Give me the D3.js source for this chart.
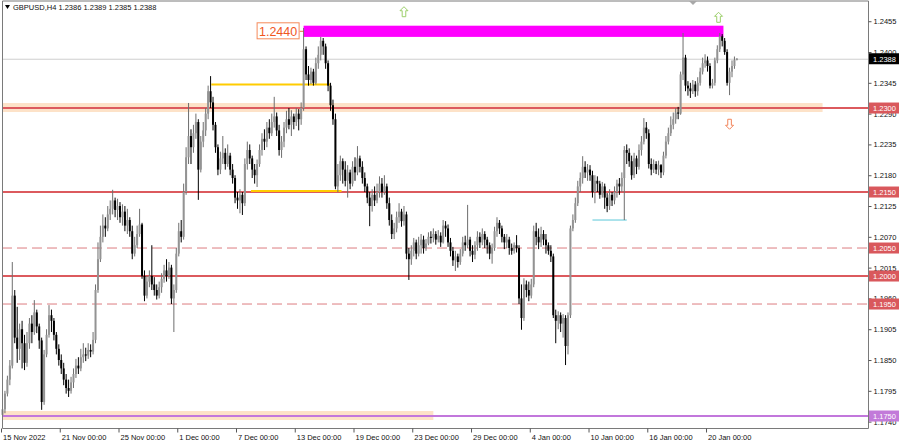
<!DOCTYPE html>
<html>
<head>
<meta charset="utf-8">
<script src="https://cdn.jsdelivr.net/npm/d3@7"></script>
<style>
body { margin: 0; background: #fff; }
svg { display: block; }
text { font-family: "Liberation Sans", Arial, sans-serif; }
</style>
</head>
<body>
<div id="chart"></div>
<script>
// GBPUSD H4 candles (bar 0 = 15 Nov 2022 00:00)
const opens = [
1.1752,1.1762,1.1790,1.1815,1.1840,1.1965,1.1890,1.1870,1.1905,1.1880,1.1845,1.1880,1.1915,1.1900,1.1935,1.1910,1.1885,1.1775,1.1860,1.1895,1.1930,1.1920,1.1895,1.1870,
1.1850,1.1835,1.1815,1.1800,1.1795,1.1810,1.1825,1.1840,1.1835,1.1855,1.1860,1.1858,1.1868,1.1865,1.1886,1.1975,1.2030,1.2070,1.2090,1.2085,1.2110,1.2120,1.2135,1.2118,
1.2125,1.2105,1.2115,1.2090,1.2100,1.2080,1.2040,1.2055,1.2075,1.2092,1.2000,1.1965,1.1990,1.2000,1.1985,1.1975,1.1965,1.1980,1.1995,1.2010,1.2000,1.2015,1.1960,1.1975,
1.2040,1.2080,1.2070,1.2150,1.2212,1.2250,1.2230,1.2255,1.2275,1.2190,1.2240,1.2260,1.2290,1.2330,1.2310,1.2270,1.2230,1.2190,1.2210,1.2220,1.2200,1.2215,1.2190,1.2175,
1.2140,1.2135,1.2145,1.2130,1.2200,1.2225,1.2210,1.2190,1.2180,1.2200,1.2225,1.2245,1.2240,1.2265,1.2255,1.2275,1.2285,1.2260,1.2225,1.2240,1.2265,1.2280,1.2270,1.2285,
1.2275,1.2290,1.2280,1.2300,1.2405,1.2360,1.2350,1.2365,1.2345,1.2380,1.2395,1.2420,1.2410,1.2380,1.2340,1.2305,1.2280,1.2160,1.2180,1.2205,1.2190,1.2170,1.2185,1.2165,
1.2195,1.2185,1.2210,1.2195,1.2175,1.2160,1.2140,1.2125,1.2145,1.2135,1.2150,1.2165,1.2150,1.2160,1.2130,1.2100,1.2075,1.2085,1.2105,1.2115,1.2098,1.2110,1.2040,1.2030,
1.2045,1.2060,1.2040,1.2055,1.2065,1.2050,1.2058,1.2070,1.2068,1.2075,1.2065,1.2072,1.2060,1.2090,1.2085,1.2060,1.2045,1.2028,1.2035,1.2025,1.2040,1.2060,1.2055,1.2065,
1.2045,1.2038,1.2055,1.2070,1.2060,1.2075,1.2065,1.2055,1.2040,1.2050,1.2080,1.2095,1.2085,1.2070,1.2060,1.2065,1.2050,1.2045,1.2055,1.2050,1.1960,1.1925,1.1985,1.1975,
1.1965,1.1985,1.2080,1.2070,1.2060,1.2075,1.2065,1.2055,1.2045,1.2035,1.1930,1.1920,1.1930,1.1915,1.1925,1.1875,1.1930,1.2085,1.2100,1.2130,1.2160,1.2175,1.2195,1.2185,
1.2190,1.2180,1.2150,1.2170,1.2165,1.2145,1.2160,1.2140,1.2125,1.2145,1.2135,1.2150,1.2165,1.2160,1.2175,1.2225,1.2220,1.2205,1.2180,1.2210,1.2195,1.2225,1.2240,1.2265,
1.2255,1.2200,1.2190,1.2200,1.2190,1.2198,1.2185,1.2215,1.2240,1.2255,1.2270,1.2280,1.2292,1.2290,1.2360,1.2390,1.2340,1.2335,1.2330,1.2342,1.2330,1.2345,1.2365,1.2380,
1.2385,1.2375,1.2340,1.2345,1.2385,1.2405,1.2428,1.2420,1.2400,1.2345,1.2365,1.2375,1.2386]

const highs = [
1.1768,1.1795,1.1822,1.1850,1.2025,1.1975,1.1945,1.1915,1.1920,1.1895,1.1900,1.1925,1.1930,1.1957,1.1940,1.1915,1.1890,1.1868,1.1905,1.1948,1.1940,1.1925,1.1900,1.1878,
1.1860,1.1845,1.1825,1.1815,1.1820,1.1835,1.1852,1.1855,1.1870,1.1880,1.1872,1.1880,1.1878,1.1900,1.1985,1.2060,1.2090,1.2110,1.2105,1.2125,1.2135,1.2154,1.2140,1.2138,
1.2132,1.2128,1.2125,1.2120,1.2105,1.2090,1.2070,1.2090,1.2120,1.2095,1.2010,1.2000,1.2010,1.2055,1.1998,1.1985,1.1990,1.2005,1.2020,1.2030,1.2025,1.2020,1.1985,1.2050,
1.2095,1.2100,1.2165,1.2230,1.2309,1.2262,1.2270,1.2290,1.2280,1.2250,1.2275,1.2300,1.2340,1.2357,1.2320,1.2275,1.2235,1.2222,1.2250,1.2228,1.2235,1.2220,1.2200,1.2180,
1.2150,1.2155,1.2150,1.2210,1.2240,1.2235,1.2215,1.2200,1.2208,1.2235,1.2255,1.2262,1.2275,1.2280,1.2290,1.2320,1.2292,1.2270,1.2250,1.2275,1.2295,1.2300,1.2296,1.2290,
1.2300,1.2298,1.2310,1.2443,1.2410,1.2375,1.2372,1.2370,1.2390,1.2410,1.2427,1.2425,1.2415,1.2385,1.2345,1.2315,1.2290,1.2200,1.2215,1.2210,1.2205,1.2198,1.2190,1.2205,
1.2212,1.2232,1.2215,1.2205,1.2185,1.2165,1.2150,1.2155,1.2160,1.2165,1.2178,1.2175,1.2180,1.2165,1.2140,1.2110,1.2095,1.2115,1.2130,1.2120,1.2125,1.2115,1.2050,1.2055,
1.2068,1.2065,1.2070,1.2075,1.2072,1.2066,1.2078,1.2080,1.2085,1.2080,1.2082,1.2078,1.2100,1.2098,1.2092,1.2068,1.2052,1.2045,1.2040,1.2048,1.2070,1.2072,1.2127,1.2070,
1.2055,1.2062,1.2080,1.2078,1.2085,1.2080,1.2070,1.2060,1.2058,1.2088,1.2105,1.2100,1.2090,1.2075,1.2075,1.2070,1.2058,1.2060,1.2073,1.2055,1.1985,1.1996,1.1992,1.1990,
1.1995,1.2090,1.2095,1.2085,1.2088,1.2082,1.2075,1.2060,1.2055,1.2040,1.1940,1.1937,1.1935,1.1932,1.1930,1.1935,1.2090,1.2110,1.2140,1.2170,1.2185,1.2214,1.2205,1.2200,
1.2198,1.2188,1.2180,1.2178,1.2170,1.2168,1.2165,1.2148,1.2155,1.2150,1.2160,1.2172,1.2175,1.2185,1.2232,1.2235,1.2228,1.2215,1.2220,1.2215,1.2235,1.2250,1.2282,1.2275,
1.2262,1.2210,1.2208,1.2205,1.2206,1.2200,1.2222,1.2250,1.2265,1.2285,1.2292,1.2300,1.2302,1.2365,1.2434,1.2395,1.2348,1.2345,1.2350,1.2348,1.2355,1.2372,1.2390,1.2396,
1.2392,1.2380,1.2352,1.2390,1.2412,1.2434,1.2432,1.2425,1.2405,1.2372,1.2385,1.2392,1.2389]

const lows = [
1.1745,1.1755,1.1785,1.1805,1.1835,1.1880,1.1845,1.1850,1.1835,1.1832,1.1838,1.1870,1.1880,1.1895,1.1898,1.1870,1.1761,1.1770,1.1855,1.1890,1.1900,1.1885,1.1860,1.1840,
1.1825,1.1805,1.1790,1.1784,1.1790,1.1800,1.1818,1.1825,1.1830,1.1845,1.1848,1.1852,1.1855,1.1860,1.1880,1.1970,1.2025,1.2060,1.2070,1.2080,1.2100,1.2110,1.2105,1.2100,
1.2095,1.2090,1.2080,1.2075,1.2070,1.2030,1.2035,1.2050,1.2070,1.1995,1.1955,1.1960,1.1980,1.1975,1.1965,1.1958,1.1960,1.1970,1.1988,1.1990,1.1995,1.1950,1.1900,1.1970,
1.2035,1.2060,1.2065,1.2145,1.2200,1.2200,1.2220,1.2245,1.2136,1.2185,1.2230,1.2250,1.2280,1.2300,1.2260,1.2220,1.2180,1.2182,1.2200,1.2190,1.2195,1.2180,1.2165,1.2130,
1.2120,1.2112,1.2109,1.2125,1.2190,1.2200,1.2175,1.2165,1.2159,1.2195,1.2215,1.2225,1.2230,1.2245,1.2250,1.2265,1.2250,1.2215,1.2211,1.2230,1.2255,1.2262,1.2250,1.2262,
1.2268,1.2260,1.2270,1.2295,1.2350,1.2340,1.2343,1.2340,1.2342,1.2370,1.2385,1.2395,1.2370,1.2330,1.2295,1.2270,1.2155,1.2150,1.2170,1.2165,1.2160,1.2140,1.2155,1.2160,
1.2170,1.2180,1.2185,1.2165,1.2150,1.2130,1.2089,1.2115,1.2125,1.2130,1.2140,1.2140,1.2145,1.2120,1.2090,1.2066,1.2066,1.2078,1.2095,1.2088,1.2090,1.2030,1.1993,1.2020,
1.2035,1.2030,1.2035,1.2040,1.2040,1.2045,1.2055,1.2058,1.2060,1.2056,1.2060,1.2052,1.2058,1.2070,1.2052,1.2035,1.2018,1.2009,1.2015,1.2020,1.2035,1.2045,1.2050,1.2035,
1.2025,1.2030,1.2045,1.2050,1.2055,1.2050,1.2040,1.2030,1.2022,1.2045,1.2070,1.2075,1.2060,1.2048,1.2050,1.2038,1.2038,1.2040,1.2042,1.1950,1.1904,1.1920,1.1962,1.1955,
1.1960,1.1980,1.2055,1.2048,1.2052,1.2055,1.2040,1.2038,1.2025,1.1925,1.1880,1.1905,1.1900,1.1890,1.1841,1.1860,1.1925,1.2080,1.2095,1.2125,1.2150,1.2165,1.2175,1.2170,
1.2170,1.2140,1.2130,1.2150,1.2138,1.2140,1.2120,1.2114,1.2118,1.2125,1.2128,1.2140,1.2145,1.2150,1.2100,1.2200,1.2195,1.2172,1.2175,1.2182,1.2190,1.2215,1.2235,1.2245,
1.2192,1.2180,1.2184,1.2182,1.2180,1.2175,1.2180,1.2210,1.2235,1.2250,1.2262,1.2272,1.2280,1.2288,1.2350,1.2330,1.2322,1.2318,1.2325,1.2320,1.2322,1.2340,1.2360,1.2372,
1.2365,1.2335,1.2335,1.2340,1.2380,1.2400,1.2410,1.2395,1.2340,1.2323,1.2355,1.2370,1.2385]

const closes = [
1.1762,1.1790,1.1815,1.1840,1.1965,1.1890,1.1870,1.1905,1.1880,1.1845,1.1880,1.1915,1.1900,1.1935,1.1910,1.1885,1.1775,1.1860,1.1895,1.1930,1.1920,1.1895,1.1870,1.1850,
1.1835,1.1815,1.1800,1.1795,1.1810,1.1825,1.1840,1.1835,1.1855,1.1860,1.1858,1.1868,1.1865,1.1886,1.1975,1.2030,1.2070,1.2090,1.2085,1.2110,1.2120,1.2135,1.2118,1.2125,
1.2105,1.2115,1.2090,1.2100,1.2080,1.2040,1.2055,1.2075,1.2092,1.2000,1.1965,1.1990,1.2000,1.1985,1.1975,1.1965,1.1980,1.1995,1.2010,1.2000,1.2015,1.1960,1.1975,1.2040,
1.2080,1.2070,1.2150,1.2212,1.2250,1.2230,1.2255,1.2275,1.2190,1.2240,1.2260,1.2290,1.2330,1.2310,1.2270,1.2230,1.2190,1.2210,1.2220,1.2200,1.2215,1.2190,1.2175,1.2140,
1.2135,1.2145,1.2130,1.2200,1.2225,1.2210,1.2190,1.2180,1.2200,1.2225,1.2245,1.2240,1.2265,1.2255,1.2275,1.2285,1.2260,1.2225,1.2240,1.2265,1.2280,1.2270,1.2285,1.2275,
1.2290,1.2280,1.2300,1.2405,1.2360,1.2350,1.2365,1.2345,1.2380,1.2395,1.2420,1.2410,1.2380,1.2340,1.2305,1.2280,1.2160,1.2180,1.2205,1.2190,1.2170,1.2185,1.2165,1.2195,
1.2185,1.2210,1.2195,1.2175,1.2160,1.2140,1.2125,1.2145,1.2135,1.2150,1.2165,1.2150,1.2160,1.2130,1.2100,1.2075,1.2085,1.2105,1.2115,1.2098,1.2110,1.2040,1.2030,1.2045,
1.2060,1.2040,1.2055,1.2065,1.2050,1.2058,1.2070,1.2068,1.2075,1.2065,1.2072,1.2060,1.2090,1.2085,1.2060,1.2045,1.2028,1.2035,1.2025,1.2040,1.2060,1.2055,1.2065,1.2045,
1.2038,1.2055,1.2070,1.2060,1.2075,1.2065,1.2055,1.2040,1.2050,1.2080,1.2095,1.2085,1.2070,1.2060,1.2065,1.2050,1.2045,1.2055,1.2050,1.1960,1.1925,1.1985,1.1975,1.1965,
1.1985,1.2080,1.2070,1.2060,1.2075,1.2065,1.2055,1.2045,1.2035,1.1930,1.1920,1.1930,1.1915,1.1925,1.1875,1.1930,1.2085,1.2100,1.2130,1.2160,1.2175,1.2195,1.2185,1.2190,
1.2180,1.2150,1.2170,1.2165,1.2145,1.2160,1.2140,1.2125,1.2145,1.2135,1.2150,1.2165,1.2160,1.2175,1.2225,1.2220,1.2205,1.2180,1.2210,1.2195,1.2225,1.2240,1.2265,1.2255,
1.2200,1.2190,1.2200,1.2190,1.2198,1.2185,1.2215,1.2240,1.2255,1.2270,1.2280,1.2292,1.2290,1.2360,1.2390,1.2340,1.2335,1.2330,1.2342,1.2330,1.2345,1.2365,1.2380,1.2385,
1.2375,1.2340,1.2345,1.2385,1.2405,1.2428,1.2420,1.2400,1.2345,1.2365,1.2375,1.2386,1.2388]

const dateLabels = ['15 Nov 2022','21 Nov 00:00','25 Nov 00:00','1 Dec 00:00','7 Dec 00:00','13 Dec 00:00',
	'19 Dec 00:00','23 Dec 00:00','29 Dec 00:00','4 Jan 00:00','10 Jan 00:00','16 Jan 00:00','20 Jan 00:00']
const barsPerLabel = 24

const priceTicks = [1.2455,1.2400,1.2345,1.2290,1.2235,1.2180,1.2125,1.2070,1.2015,1.1960,1.1905,1.1850,1.1795,1.1740]

const solidLevels = [1.2300, 1.2150, 1.2000]
const dashedLevels = [1.2050, 1.1950]
const purpleLevel = 1.1750
const bandLevels = [{ price: 1.2300, endBar: 335 }, { price: 1.1750, endBar: 176 }]
const lastPrice = 1.2388

// resistance zone drawn in magenta
const zone = { top: 1.2447, bottom: 1.2427, from: 123, to: 294.5, label: '1.2440' }
const yellowLines = [{ price: 1.2342, from: 85.3, to: 134 }, { price: 1.2152, from: 101.5, to: 138.5 }]
const cyanLine = { price: 1.2100, from: 241, to: 255 }
const upArrows = [{ bar: 164, price: 1.2472 }, { bar: 292.5, price: 1.2462 }]
const downArrows = [{ bar: 297, price: 1.2271 }]

const W = 900, H = 444
const plot = { left: 2, right: 868, top: 1, bottom: 428 }
const barStep = 2.448

const svg = d3.select('#chart').append('svg')
	.attr('width', W).attr('height', H)

const xScale = d3.scaleLinear()
	.domain([0, 300])
	.range([2.5, 2.5 + 300 * barStep])

const yScale = d3.scaleLinear()
	.domain([1.17286, 1.24929])
	.range([428, 0])

const candles = opens.map((o, i) => ({ i, o, h: highs[i], l: lows[i], c: closes[i] }))

// bands behind the levels
svg.selectAll('rect.band')
	.data(bandLevels)
	.join('rect')
	.attr('x', plot.left)
	.attr('width', d => xScale(d.endBar) - plot.left)
	.attr('y', d => yScale(d.price) - 5)
	.attr('height', 9)
	.attr('fill', '#fde2c8')

// current price line
svg.append('line')
	.attr('x1', plot.left).attr('x2', plot.right)
	.attr('y1', yScale(lastPrice) + 0.5).attr('y2', yScale(lastPrice) + 0.5)
	.attr('stroke', '#cfcfcf')

svg.selectAll('line.dash')
	.data(dashedLevels)
	.join('line')
	.attr('x1', plot.left).attr('x2', plot.right)
	.attr('y1', d => yScale(d)).attr('y2', d => yScale(d))
	.attr('stroke', '#dc7c80')
	.attr('stroke-dasharray', '10,5')

svg.selectAll('line.solid')
	.data(solidLevels)
	.join('line')
	.attr('x1', plot.left).attr('x2', plot.right)
	.attr('y1', d => yScale(d)).attr('y2', d => yScale(d))
	.attr('stroke', '#dc5a5e')
	.attr('stroke-width', 2)

svg.append('line')
	.attr('x1', plot.left).attr('x2', plot.right)
	.attr('y1', yScale(purpleLevel)).attr('y2', yScale(purpleLevel))
	.attr('stroke', '#c277dc')
	.attr('stroke-width', 2)

// magenta zone + its label
svg.append('rect')
	.attr('x', xScale(zone.from))
	.attr('width', xScale(zone.to) - xScale(zone.from))
	.attr('y', yScale(zone.top))
	.attr('height', yScale(zone.bottom) - yScale(zone.top))
	.attr('fill', '#ff00ff')

const zx = xScale(zone.from), zy = yScale((zone.top + zone.bottom) / 2)
svg.append('line')
	.attr('x1', zx - 4).attr('x2', zx).attr('y1', zy).attr('y2', zy)
	.attr('stroke', '#f06a3c')
svg.append('rect')
	.attr('x', zx - 46.5).attr('y', zy - 8.5)
	.attr('width', 42).attr('height', 16)
	.attr('fill', '#fff').attr('stroke', '#f58a5a')
svg.append('text')
	.attr('x', zx - 25.5).attr('y', zy + 4.5)
	.attr('text-anchor', 'middle')
	.attr('font-size', 12.5)
	.attr('fill', '#f0561e')
	.text(zone.label)

svg.selectAll('line.yellow')
	.data(yellowLines)
	.join('line')
	.attr('x1', d => xScale(d.from)).attr('x2', d => xScale(d.to))
	.attr('y1', d => yScale(d.price)).attr('y2', d => yScale(d.price))
	.attr('stroke', '#ffcc00')
	.attr('stroke-width', 2)

svg.append('line')
	.attr('x1', xScale(cyanLine.from)).attr('x2', xScale(cyanLine.to))
	.attr('y1', yScale(cyanLine.price)).attr('y2', yScale(cyanLine.price))
	.attr('stroke', '#5cc8d8')

// candles
const up = d => d.c >= d.o
svg.append('g').selectAll('line')
	.data(candles)
	.join('line')
	.attr('x1', d => xScale(d.i)).attr('x2', d => xScale(d.i))
	.attr('y1', d => yScale(Math.max(d.h, d.o, d.c)))
	.attr('y2', d => yScale(Math.min(d.l, d.o, d.c)))
	.attr('stroke', d => up(d) ? '#6e6e6e' : '#000')
	.attr('stroke-width', 1)

svg.append('g').selectAll('rect')
	.data(candles)
	.join('rect')
	.attr('x', d => xScale(d.i) - 1)
	.attr('width', 2)
	.attr('y', d => yScale(Math.max(d.o, d.c)))
	.attr('height', d => Math.max(0.8, Math.abs(yScale(d.o) - yScale(d.c))))
	.attr('fill', d => up(d) ? '#939393' : '#000')

// hollow arrows
const arrowUp = 'M0,-5 L4,-1 L1.8,-1 L1.8,5 L-1.8,5 L-1.8,-1 L-4,-1 Z'
const arrowDown = 'M0,5 L4,1 L1.8,1 L1.8,-5 L-1.8,-5 L-1.8,1 L-4,1 Z'
svg.selectAll('path.up')
	.data(upArrows)
	.join('path')
	.attr('d', arrowUp)
	.attr('transform', d => `translate(${xScale(d.bar)},${yScale(d.price)})`)
	.attr('fill', '#fff').attr('stroke', '#9ccf6a')
svg.selectAll('path.down')
	.data(downArrows)
	.join('path')
	.attr('d', arrowDown)
	.attr('transform', d => `translate(${xScale(d.bar)},${yScale(d.price)})`)
	.attr('fill', '#fff').attr('stroke', '#f2845a')

// frame
svg.append('path')
	.attr('d', `M${plot.left + 0.5},${plot.top} V${plot.bottom + 0.5} H${plot.right + 0.5} V${plot.top} H${plot.left + 0.5}`)
	.attr('fill', 'none')
	.attr('stroke', '#7a7a7a')
svg.append('path')
	.attr('d', 'M689,1 L697,1 L693,5 Z')
	.attr('fill', '#a8a8a8')

// right price axis
const yAxis = d3.axisRight(yScale)
	.tickValues(priceTicks)
	.tickSize(3)
	.tickPadding(2)
	.tickFormat(d3.format('.4f'))
svg.append('g')
	.attr('transform', `translate(${plot.right + 0.5},0)`)
	.call(yAxis)
	.call(g => g.select('.domain').remove())
	.call(g => g.selectAll('line').attr('stroke', '#555'))
	.call(g => g.selectAll('text').attr('font-size', 7.5).attr('font-family', '"Liberation Sans", Arial, sans-serif').attr('fill', '#111'))

// bottom time axis
const xAxis = d3.axisBottom(xScale)
	.tickValues(dateLabels.map((d, k) => k * barsPerLabel))
	.tickSize(4)
	.tickFormat((d, k) => dateLabels[k])
svg.append('g')
	.attr('transform', `translate(-1.5,${plot.bottom + 0.5})`)
	.call(xAxis)
	.call(g => g.select('.domain').remove())
	.call(g => g.selectAll('line').attr('stroke', '#555'))
	.call(g => g.selectAll('text')
		.attr('text-anchor', 'start').attr('x', 1.5).attr('y', 6.5)
		.attr('font-size', 7.5).attr('font-family', '"Liberation Sans", Arial, sans-serif').attr('fill', '#111'))

// price tags on the axis
const tags = [
	...solidLevels.map(p => ({ p, bg: '#d9585c' })),
	...dashedLevels.map(p => ({ p, bg: '#d9585c' })),
	{ p: purpleLevel, bg: '#c27ad9' },
	{ p: lastPrice, bg: '#000' }
]
const tag = svg.append('g').selectAll('g')
	.data(tags)
	.join('g')
	.attr('transform', d => `translate(${plot.right + 1},${yScale(d.p)})`)
tag.append('rect')
	.attr('x', 0).attr('y', -5.5)
	.attr('width', 30).attr('height', 11)
	.attr('fill', d => d.bg)
tag.append('text')
	.attr('x', 4).attr('y', 3)
	.attr('font-size', 7.5)
	.attr('fill', '#fff')
	.text(d => d.p.toFixed(4))

// title
svg.append('path').attr('d', 'M5,5 L10,5 L7.5,9 Z').attr('fill', '#000')
svg.append('text')
	.attr('x', 13).attr('y', 10)
	.attr('font-size', 7.5)
	.attr('fill', '#111')
	.text('GBPUSD,H4  ' + [opens[300], highs[300], lows[300], closes[300]].map(v => v.toFixed(4)).join(' '))
</script>
</body>
</html>
